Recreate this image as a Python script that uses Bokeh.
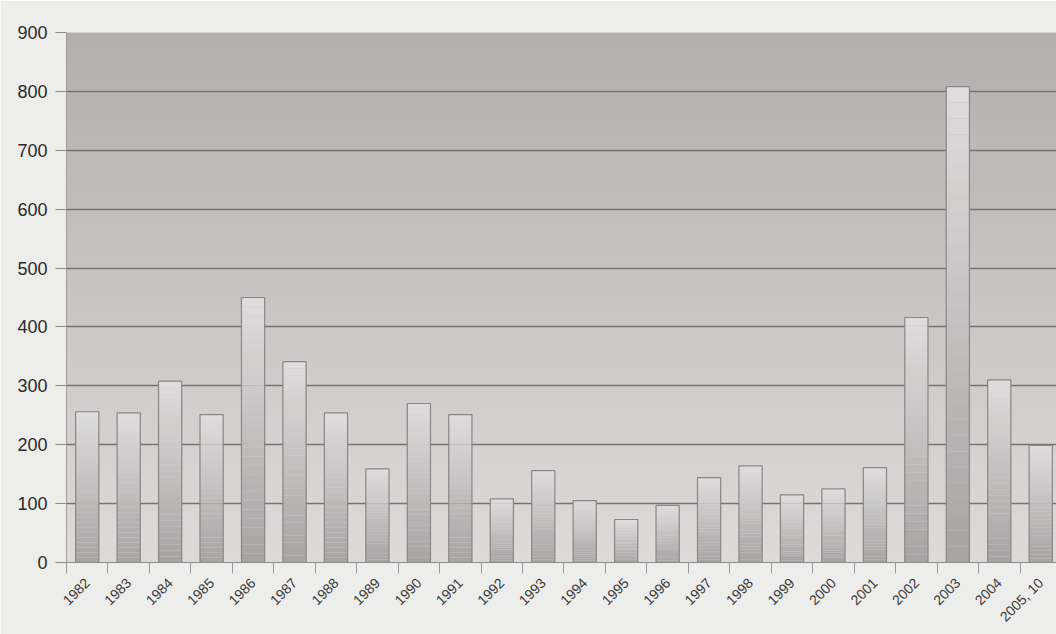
import numpy as np
from math import pi
from bokeh.plotting import figure
from bokeh.models import Range1d, FixedTicker
from bokeh.embed import file_html
from bokeh.resources import INLINE

# ---- data ----
categories = ["1982", "1983", "1984", "1985", "1986", "1987", "1988", "1989",
              "1990", "1991", "1992", "1993", "1994", "1995", "1996", "1997",
              "1998", "1999", "2000", "2001", "2002", "2003", "2004", "2005, 10"]
values = [256, 254, 308, 251, 450, 341, 254, 159,
          270, 251, 108, 156, 105, 73, 97, 144,
          164, 115, 125, 161, 416, 808, 310, 199]
y_ticks = [0, 100, 200, 300, 400, 500, 600, 700, 800, 900]

n = len(categories)
xs = np.arange(n)

p = figure(width=1056, height=634,
           x_range=Range1d(-0.5, n - 0.5 - 0.12), y_range=Range1d(0, 900),
           output_backend="svg", toolbar_location=None,
           min_border_left=66, min_border_top=32, min_border_bottom=72,
           min_border_right=0)
p.border_fill_color = "#ededeb"
p.background_fill_color = "#c8c4c4"
p.outline_line_color = None

# ---- gradient background of the plot area ----
def hex2rgb(h):
    h = h.lstrip("#")
    return np.array([int(h[i:i + 2], 16) for i in (0, 2, 4)], dtype=float)

bg_bottom = hex2rgb("#dedcdb")
bg_top = hex2rgb("#b3afaf")
rows = 256
t = np.linspace(0, 1, rows)[:, None]
cols = bg_bottom * (1 - t) + bg_top * t
img = np.empty((rows, 1), dtype=np.uint32)
view = img.view(dtype=np.uint8).reshape((rows, 1, 4))
view[:, 0, 0] = cols[:, 0].astype(np.uint8)
view[:, 0, 1] = cols[:, 1].astype(np.uint8)
view[:, 0, 2] = cols[:, 2].astype(np.uint8)
view[:, 0, 3] = 255
p.image_rgba(image=[img], x=-0.5, y=0, dw=n + 1, dh=900, level="image")

# ---- gradient bars (light top, darker bottom) ----
bar_top = hex2rgb("#dfdddd")
bar_bottom = hex2rgb("#a6a3a3")
N = 30
sx, sb, st, sc = [], [], [], []
for xi, v in zip(xs, values):
    for k in range(N):
        f = (k + 0.5) / N
        c = bar_bottom * (1 - f) + bar_top * f
        sx.append(xi)
        sb.append(v * k / N)
        st.append(v * (k + 1) / N)
        sc.append("#%02x%02x%02x" % tuple(int(round(a)) for a in c))
p.vbar(x=sx, bottom=sb, top=st, width=0.56, fill_color=sc, line_color=None)
p.vbar(x=xs, bottom=0, top=values, width=0.56, fill_color=None,
       line_color="#8a8686", line_width=1.2)

# ---- axes ----
p.yaxis.ticker = FixedTicker(ticks=y_ticks)
p.yaxis.major_label_text_font = "Liberation Sans"
p.yaxis.major_label_text_font_size = "18px"
p.yaxis.major_label_text_color = "#2a2a2a"
p.yaxis.major_tick_out = 11
p.yaxis.major_tick_in = 0
p.yaxis.major_tick_line_color = "#8c8a8a"
p.yaxis.minor_tick_line_color = None
p.yaxis.axis_line_color = "#a09d9d"
p.yaxis.major_label_standoff = 8

p.xaxis.ticker = FixedTicker(ticks=list(range(n)),
                             minor_ticks=[i - 0.5 for i in range(n + 1)])
p.xaxis.major_label_overrides = {i: c for i, c in enumerate(categories)}
p.xaxis.major_label_orientation = pi / 4
p.xaxis.major_label_text_font = "Liberation Sans"
p.xaxis.major_label_text_font_size = "14px"
p.xaxis.major_label_text_color = "#3a3a3a"
p.xaxis.major_tick_line_color = None
p.xaxis.minor_tick_out = 11
p.xaxis.minor_tick_in = 0
p.xaxis.minor_tick_line_color = "#9a9898"
p.xaxis.axis_line_color = "#8c8a8a"
p.xaxis.axis_line_width = 1.2
p.xaxis.major_label_standoff = 7

p.ygrid.ticker = FixedTicker(ticks=y_ticks[1:])
p.ygrid.grid_line_color = "#777373"
p.ygrid.grid_line_width = 1.3
p.xgrid.grid_line_color = None

open("out.html", "w").write(file_html(p, INLINE))
